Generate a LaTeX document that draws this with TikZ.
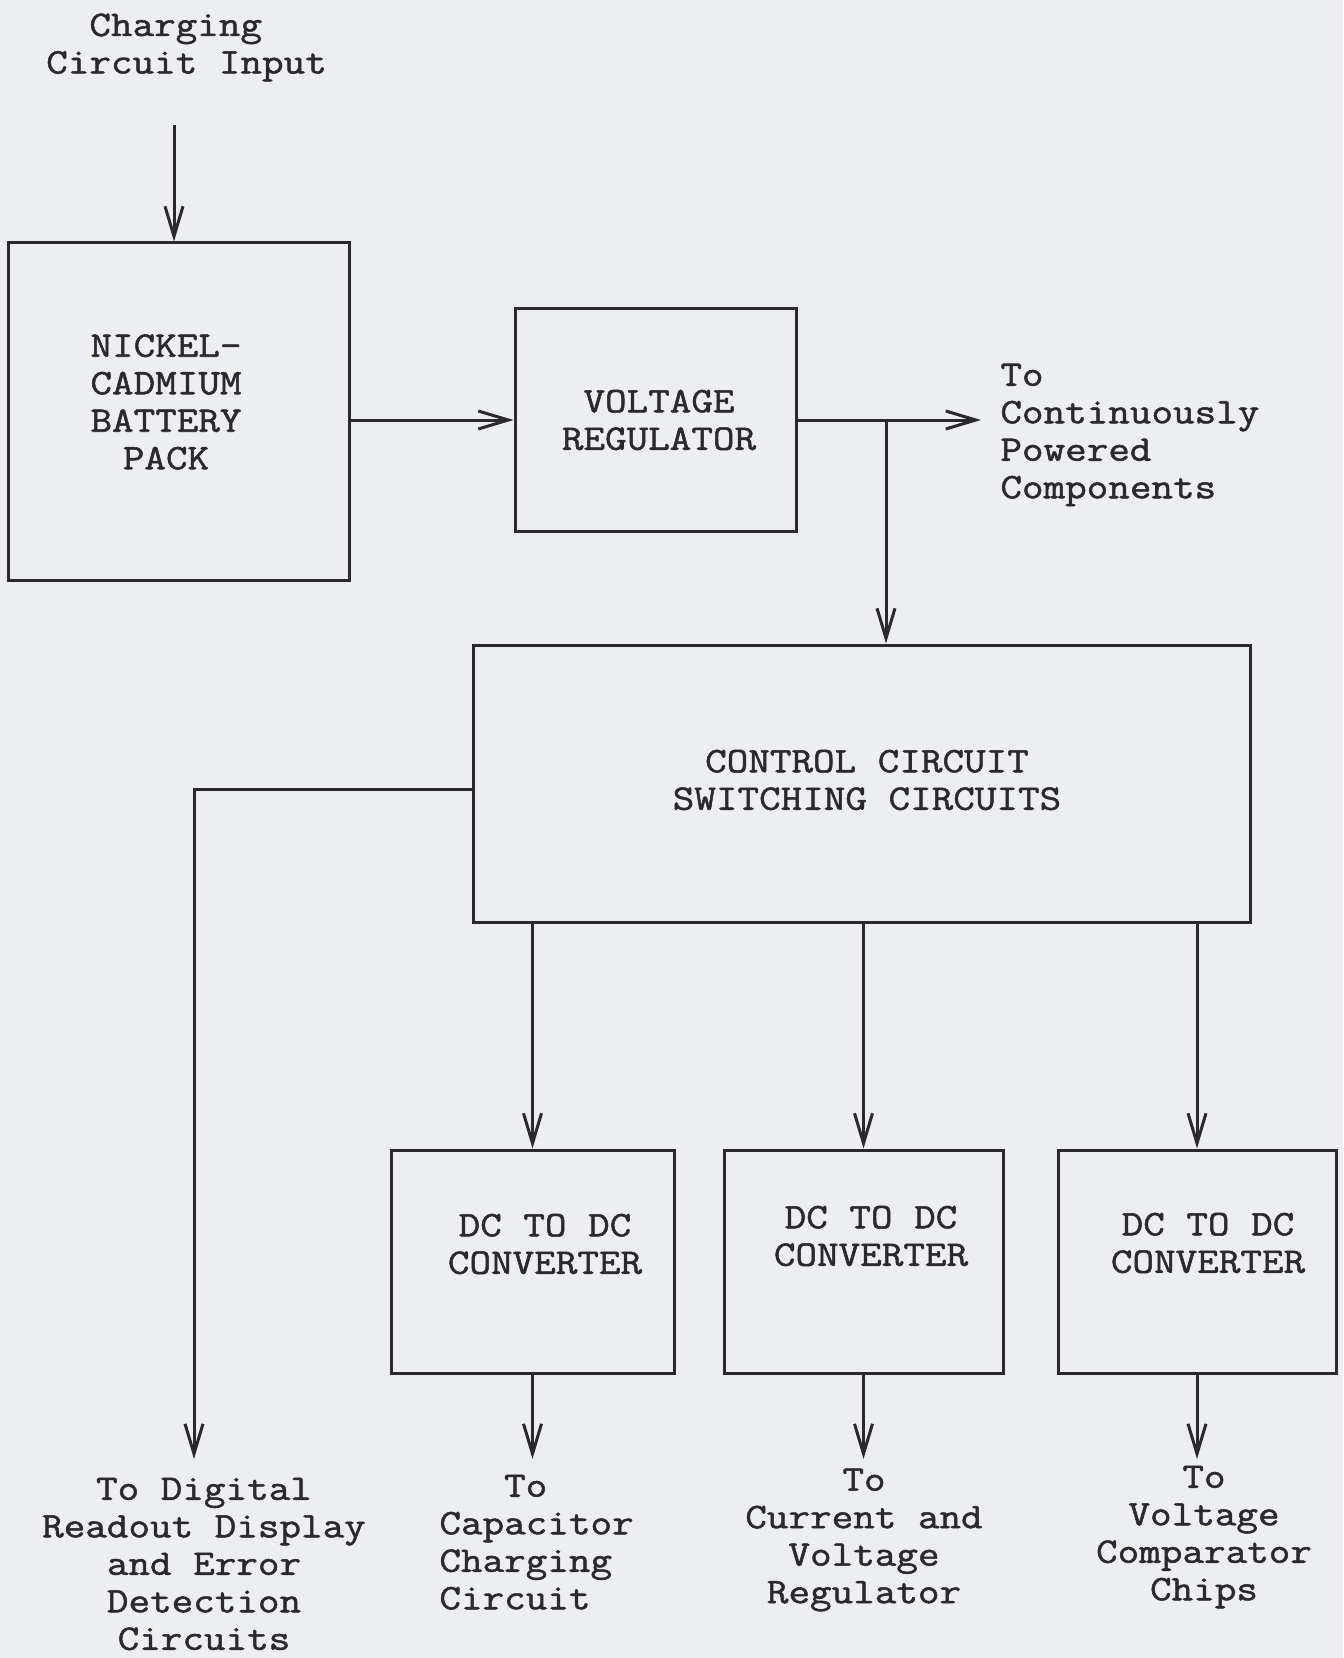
\documentclass[tikz,border=0pt]{standalone}
\usepackage{fontspec}
\setmonofont{Latin Modern Mono}[FakeStretch=1.164,FakeBold=1.4]
\usetikzlibrary{arrows.meta}
\definecolor{paper}{HTML}{EDEEEF}
\definecolor{ink}{HTML}{2A2A2D}
\begin{document}
\begin{tikzpicture}[x=0.5pt,y=-0.5pt,
  box/.style={draw=ink, line width=1.5pt, inner sep=0pt},
  lbl/.style={text=ink, inner sep=0pt, align=center, font=\ttfamily\fontsize{18}{18.75}\selectfont},
  arr/.style={draw=ink, line width=1.5pt, -{Straight Barb[length=15pt,width=9pt,line width=1.5pt]}},
  wire/.style={draw=ink, line width=1.5pt}]
\fill[paper] (0,0) rectangle (1343,1658);
\useasboundingbox (0,0) rectangle (1343,1658);

% boxes
\node[box, minimum width=170.25pt, minimum height=168.5pt] (bat) at (178.75,411.5) {};
\node[box, minimum width=140.5pt, minimum height=111pt] (vr) at (655.5,420) {};
\node[box, minimum width=388.5pt, minimum height=138.5pt] (ctl) at (861.5,783.5) {};
\node[box, minimum width=141.5pt, minimum height=111.5pt] (dc1) at (532.5,1261.5) {};
\node[box, minimum width=139.5pt, minimum height=111.5pt] (dc2) at (863.5,1261.5) {};
\node[box, minimum width=139pt, minimum height=111.5pt] (dc3) at (1197,1261.5) {};

% texts
\node[lbl, align=left] (cin) at (186.5,47.5) {\phantom{Ci}Charging\\Circuit Input};
\node[lbl] (batT) at (166,402) {NICKEL-\\CADMIUM\\BATTERY\\PACK};
\node[lbl] (vrT) at (659,420) {VOLTAGE\\REGULATOR};
\node[lbl, anchor=west, align=left] (contT) at (1000,435) {To\\Continuously\\Powered\\Components};
\node[lbl] (ctlT) at (867,780) {CONTROL CIRCUIT\\SWITCHING CIRCUITS};
\node[lbl] (dc1T) at (545,1244) {DC TO DC\\CONVERTER};
\node[lbl] (dc2T) at (871,1236) {DC TO DC\\CONVERTER};
\node[lbl] (dc3T) at (1208,1243) {DC TO DC\\CONVERTER};
\node[lbl] (digT) at (204,1564) {To Digital\\Readout Display\\and Error\\Detection\\Circuits};
\node[lbl, anchor=west, align=left] (capT) at (439,1542) {\phantom{Cap}To\\Capacitor\\Charging\\Circuit};
\node[lbl] (curT) at (864,1540) {To\\Current and\\Voltage\\Regulator};
\node[lbl] (vcT) at (1204,1537) {To\\Voltage\\Comparator\\Chips};

% coordinates
\coordinate (cinS) at (174,125);
\coordinate (contE) at (981,420);
\coordinate (brA) at (886,420);
\coordinate (digC) at (194,789);
\coordinate (digE) at (194,1459);
\coordinate (botY) at (0,1459);

% connectors
\draw[arr] (cinS) -- (cinS |- bat.north);
\draw[arr] (bat.east |- vr.west) -- (vr.west);
\draw[arr] (vr.east) -- (contE);
\draw[arr] (brA) -- (brA |- ctl.north);
\draw[arr] (ctl.west |- digC) -- (digC) -- (digE);
\draw[arr] (ctl.south -| dc1.north) -- (dc1.north);
\draw[arr] (ctl.south -| dc2.north) -- (dc2.north);
\draw[arr] (ctl.south -| dc3.north) -- (dc3.north);
\draw[arr] (dc1.south) -- (dc1.south |- botY);
\draw[arr] (dc2.south) -- (dc2.south |- botY);
\draw[arr] (dc3.south) -- (dc3.south |- botY);
\end{tikzpicture}
\end{document}
